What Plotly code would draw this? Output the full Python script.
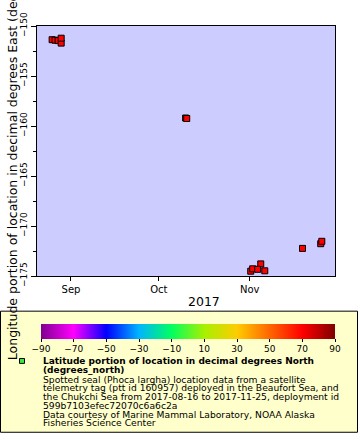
import plotly.graph_objects as go

# ---- data ----
times = [
    "2017-08-25 14:00", "2017-08-26 14:00", "2017-08-27 15:00", "2017-08-28 16:00", "2017-08-28 16:00",
    "2017-10-10 03:00", "2017-10-10 12:00",
    "2017-11-01 08:00", "2017-11-02 00:00", "2017-11-04 18:00", "2017-11-03 17:00", "2017-11-06 03:00",
    "2017-11-19 00:00", "2017-11-25 05:00", "2017-11-25 14:00",
]
lon = [
    -151.37, -151.42, -151.46, -151.71, -151.22,
    -159.20, -159.25,
    -174.52, -174.28, -173.79, -174.33, -174.48,
    -172.24, -171.77, -171.53,
]
lat = [
    70.0, 70.1, 70.1, 70.2, 70.2,
    70.0, 70.0,
    69.9, 69.9, 69.9, 69.9, 69.9,
    70.0, 70.0, 70.0,
]
x_tick_vals = ["2017-09-01", "2017-10-01", "2017-11-01"]
x_tick_text = ["Sep", "Oct", "Nov"]
y_tick_vals = [-175, -170, -165, -160, -155, -150]
cbar_ticks = [-90, -70, -50, -30, -10, 10, 30, 50, 70, 90]

legend_lines = [
    "<b>Latitude portion of location in decimal degrees North</b>",
    "<b>(degrees_north)</b>",
    "Spotted seal (Phoca largha) location data from a satellite",
    "telemetry tag (ptt id 160957) deployed in the Beaufort Sea, and",
    "the Chukchi Sea from 2017-08-16 to 2017-11-25, deployment id",
    "599b7103efec72070c6a6c2a",
    "Data courtesy of Marine Mammal Laboratory, NOAA Alaska",
    "Fisheries Science Center",
]

rainbow = [
    [0.0, "#800090"], [0.111, "#ff00ff"], [0.222, "#0000ff"], [0.333, "#00b4ff"],
    [0.444, "#00ff60"], [0.556, "#a8f000"], [0.667, "#ffcc00"], [0.778, "#ff6600"],
    [0.889, "#ff0000"], [1.0, "#800000"],
]

FONT = "DejaVu Sans"
W, H = 360, 440
L, R, T, B = 37, 335, 20, 276  # plot area in pixels

def px(x):
    return (x - L) / (R - L)

def py(y):
    return (B - y) / (B - T)

fig = go.Figure()
fig.add_trace(go.Scatter(
    x=times, y=lon, mode="markers",
    marker=dict(
        symbol="square", size=6, color=lat, colorscale=rainbow, cmin=-90, cmax=90,
        line=dict(color="black", width=1),
        colorbar=dict(
            orientation="h", x=px(188), xanchor="center", y=py(325), yanchor="top",
            len=294, lenmode="pixels", thickness=15, thicknessmode="pixels",
            outlinewidth=0, tickvals=cbar_ticks, ticks="outside", ticklen=3,
            tickcolor="black", tickfont=dict(family=FONT, size=9, color="black"),
            xpad=0, ypad=0,
        ),
    ),
    showlegend=False,
))

shapes = [
    dict(type="rect", xref="paper", yref="paper", x0=px(0.5), x1=px(357.5), y0=py(312), y1=py(436),
         fillcolor="#ffffcc", line=dict(color="black", width=1), layer="below"),
    dict(type="rect", xref="paper", yref="paper", x0=px(19.5), x1=px(24.5), y0=py(360.5), y1=py(365.5),
         fillcolor="#33ee33", line=dict(color="black", width=1)),
]

annotations = []
line_y = [363, 372, 381.5, 390.5, 399.5, 408.5, 417.5, 426.5]
for i, (txt, yy) in enumerate(zip(legend_lines, line_y)):
    annotations.append(dict(
        text=txt, xref="paper", yref="paper", x=px(42), y=py(yy), xanchor="left", yanchor="middle",
        showarrow=False, font=dict(family=FONT, size=9 if i < 2 else 9.2, color="black"), borderpad=0,
    ))
annotations.append(dict(
    text="2017", xref="paper", yref="paper", x=px(204), y=py(302), xanchor="center", yanchor="middle",
    showarrow=False, font=dict(family=FONT, size=12.5, color="black"), borderpad=0,
))
annotations.append(dict(
    text="Longitude portion of location in decimal degrees East (degrees_east)",
    xref="paper", yref="paper", x=px(12), y=py(142), xanchor="center", yanchor="middle", textangle=-90,
    showarrow=False, font=dict(family=FONT, size=12.5, color="black"), borderpad=0,
))

fig.update_layout(
    width=W, height=H, margin=dict(l=L, r=W - R, t=T, b=H - B),
    paper_bgcolor="white", plot_bgcolor="#ccccff",
    shapes=shapes, annotations=annotations,
    font=dict(family=FONT, color="black"),
    xaxis=dict(
        type="date", range=["2017-08-20 10:00", "2017-11-30 02:00"],
        tickvals=x_tick_vals, ticktext=x_tick_text, ticks="outside", ticklen=4, tickcolor="black",
        tickfont=dict(family=FONT, size=10), showgrid=False, zeroline=False,
        showline=True, linecolor="black", linewidth=1, mirror=True,
    ),
    yaxis=dict(
        range=[-175, -150], tickvals=y_tick_vals, ticks="outside", ticklen=5, tickcolor="black",
        tickangle=-90, tickfont=dict(family=FONT, size=9), showgrid=False, zeroline=False,
        showline=True, linecolor="black", linewidth=1, mirror=True,
        minor=dict(dtick=2.5, ticks="outside", ticklen=3, tickcolor="black", showgrid=False),
    ),
)

fig.write_html("out.html", config={"displayModeBar": False},
               post_script="document.body.style.margin='0';")
